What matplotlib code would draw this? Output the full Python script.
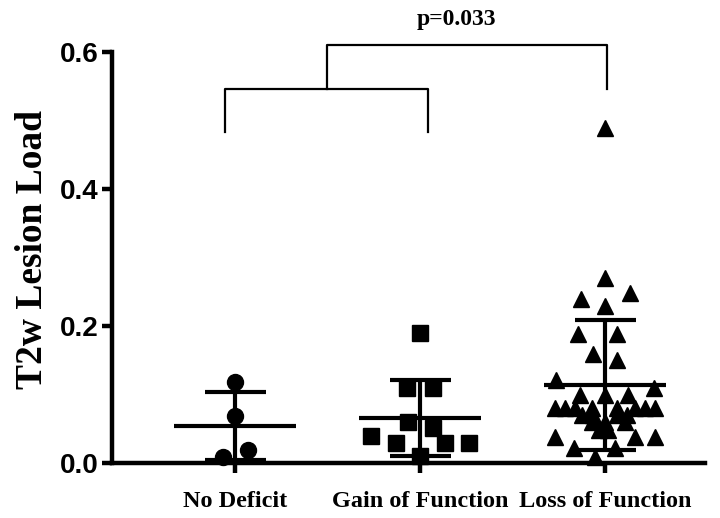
import matplotlib
matplotlib.use("Agg")
import matplotlib.pyplot as plt

# groups and individual values
groups = ["No Deficit", "Gain of Function", "Loss of Function"]

no_deficit = [0.118, 0.069, 0.009, 0.019]
gain = [0.190, 0.109, 0.109, 0.060, 0.051, 0.039, 0.029, 0.029, 0.029, 0.010]
loss = [0.489, 0.270, 0.249, 0.239, 0.229, 0.189, 0.189, 0.159, 0.150, 0.121,
        0.110, 0.099, 0.099, 0.099,
        0.080, 0.080, 0.080, 0.080, 0.080, 0.080, 0.080, 0.080,
        0.070, 0.070, 0.070, 0.070,
        0.060, 0.060, 0.060,
        0.048, 0.048,
        0.038, 0.038, 0.038,
        0.022, 0.022,
        0.009]

# mean and SD as drawn in the figure
means = [0.054, 0.066, 0.114]
sds = [0.050, 0.055, 0.095]

p_text = "p=0.033"

# horizontal scatter of the points (category units)
nd_jit = [0, 0, -0.065, 0.07]
gain_jit = [0, -0.07, 0.07, -0.065, 0.07, -0.265, -0.13, 0.135, 0.265, 0]
loss_jit = [0, 0, 0.135, -0.13, 0, -0.145, 0.065, -0.065, 0.065, -0.265,
            0.265, -0.135, 0, 0.125,
            -0.27, -0.215, -0.16, -0.07, 0.065, 0.16, 0.215, 0.27,
            -0.125, -0.065, 0.065, 0.12,
            -0.07, 0, 0.11,
            -0.03, 0.015,
            -0.27, 0.16, 0.27,
            -0.17, 0.055,
            -0.055]

serif = "Liberation Serif"
sans = "Liberation Sans"

fig = plt.figure(figsize=(7.2, 5.18), dpi=100)
ax = fig.add_axes([0.156, 0.106, 0.823, 0.793])

series = [(no_deficit, nd_jit, "o"), (gain, gain_jit, "s"), (loss, loss_jit, "^")]
for i, (vals, jit, mk) in enumerate(series):
    xs = [i + j for j in jit]
    ax.plot(xs, vals, linestyle="none", marker=mk, markersize=11.5,
            color="black", zorder=3, clip_on=False)
    m, s = means[i], sds[i]
    ax.plot([i - 0.33, i + 0.33], [m, m], color="black", lw=3, zorder=4,
            solid_capstyle="butt")
    ax.plot([i, i], [m - s, m + s], color="black", lw=3, zorder=4,
            solid_capstyle="butt")
    for yy in (m - s, m + s):
        ax.plot([i - 0.165, i + 0.165], [yy, yy], color="black", lw=3,
                zorder=4, solid_capstyle="butt")

# significance brackets
bk = dict(color="black", lw=1.6, clip_on=False)
ax.plot([-0.054, -0.054, 1.043, 1.043], [0.483, 0.546, 0.546, 0.483], **bk)
ax.plot([0.495, 0.495, 2.01, 2.01], [0.546, 0.610, 0.610, 0.546], **bk)
ax.text(1.195, 0.648, p_text, ha="center", va="center", fontsize=17,
        fontweight="bold", family=serif)

ax.set_xlim(-0.665, 2.54)
ax.set_ylim(0, 0.6)
ax.set_yticks([0.0, 0.2, 0.4, 0.6])
ax.set_yticklabels(["0.0", "0.2", "0.4", "0.6"])
ax.set_xticks(range(len(groups)))
ax.set_xticklabels(groups)

for lab in ax.get_yticklabels():
    lab.set_fontfamily(sans)
    lab.set_fontweight("bold")
    lab.set_fontsize(20)
for lab in ax.get_xticklabels():
    lab.set_fontfamily(serif)
    lab.set_fontweight("bold")
    lab.set_fontsize(17.5)

ax.set_ylabel("T2w Lesion Load", fontsize=27, fontweight="bold",
              family=serif)
ax.yaxis.set_label_coords(-0.105, 0.52)

for side in ["top", "right"]:
    ax.spines[side].set_visible(False)
for side in ["left", "bottom"]:
    ax.spines[side].set_linewidth(3.2)
ax.tick_params(axis="both", width=3.2, length=7, direction="out")
ax.tick_params(axis="y", pad=3)
ax.tick_params(axis="x", pad=13)

fig.savefig("out.png", dpi=100)
